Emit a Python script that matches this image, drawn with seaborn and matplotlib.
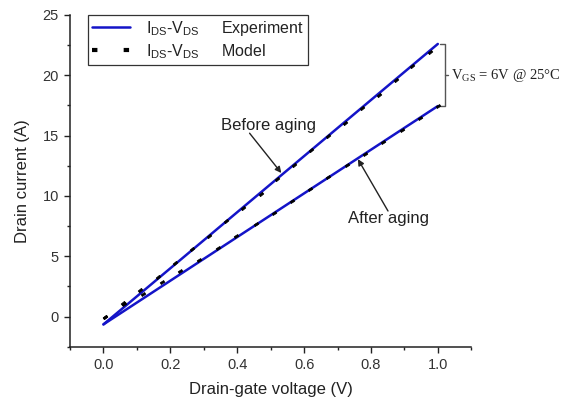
import numpy as np
import pandas as pd
import matplotlib
matplotlib.use("Agg")
import matplotlib.pyplot as plt
import seaborn as sns
from matplotlib.ticker import MultipleLocator
from matplotlib.lines import Line2D

# ---------------- data ----------------
exp_x = [0.0, 1.0]
exp_before = [-0.65, 22.6]
exp_after = [-0.65, 17.45]

model_before_x = [0.005, 0.058, 0.110, 0.163, 0.213, 0.264, 0.315, 0.367, 0.417, 0.470,
                  0.520, 0.570, 0.621, 0.672, 0.722, 0.773, 0.824, 0.874, 0.924, 0.976]
model_before_y = [0.0, 1.1, 2.2, 3.3, 4.45, 5.6, 6.7, 7.9, 9.0, 10.2,
                  11.4, 12.6, 13.8, 15.0, 16.05, 17.25, 18.4, 19.6, 20.8, 21.95]

model_after_x = [0.005, 0.061, 0.118, 0.175, 0.229, 0.285, 0.342, 0.397, 0.455, 0.509,
                 0.564, 0.618, 0.672, 0.727, 0.781, 0.836, 0.894, 0.948, 1.0]
model_after_y = [0.0, 1.0, 1.9, 2.85, 3.8, 4.7, 5.7, 6.65, 7.65, 8.6,
                 9.6, 10.55, 11.55, 12.55, 13.5, 14.5, 15.5, 16.5, 17.45]

xlabel = "Drain-gate voltage (V)"
ylabel = "Drain current (A)"
legend_labels = [r"$\mathregular{I_{DS}}$-$\mathregular{V_{DS}}$     Experiment",
                 r"$\mathregular{I_{DS}}$-$\mathregular{V_{DS}}$     Model"]
cond_text = r"V$\mathregular{_{GS}}$ = 6V @ 25°C"

# ---------------- style ----------------
sns.set_style("ticks")
plt.rcParams['font.family'] = ['Liberation Sans', 'DejaVu Sans']
plt.rcParams['mathtext.fontset'] = 'custom'
plt.rcParams['mathtext.rm'] = 'Liberation Sans'

BLUE = "#1414c8"

fig = plt.figure(figsize=(5.74, 4.03), dpi=100)
ax = fig.add_axes([0.122, 0.1397, 0.699, 0.8231])

ax.set_xlim(-0.1, 1.1)
ax.set_ylim(-2.5, 25)

df_exp = pd.DataFrame({
    "x": exp_x + exp_x,
    "y": exp_before + exp_after,
    "curve": ["before"] * len(exp_x) + ["after"] * len(exp_x),
})
sns.lineplot(data=df_exp, x="x", y="y", units="curve", estimator=None,
             color=BLUE, lw=1.8, ax=ax, legend=False, zorder=2)

fig.canvas.draw()

def dash_marker(xs, ys):
    p = ax.transData.transform(np.column_stack([xs, ys]))
    ang = np.arctan2(p[-1, 1] - p[0, 1], p[-1, 0] - p[0, 0])
    rect = np.array([[-1, -0.5], [1, -0.5], [1, 0.5], [-1, 0.5], [-1, -0.5]])
    c, s = np.cos(ang), np.sin(ang)
    rot = rect @ np.array([[c, s], [-s, c]])
    return [tuple(v) for v in rot]

for xs, ys in [(model_before_x, model_before_y), (model_after_x, model_after_y)]:
    df_m = pd.DataFrame({"x": xs, "y": ys})
    sns.scatterplot(data=df_m, x="x", y="y", marker=dash_marker(xs, ys), s=11,
                    color="black", edgecolor="black", linewidth=0.5, ax=ax, zorder=3,
                    legend=False)

# axes
ax.xaxis.set_major_locator(MultipleLocator(0.2))
ax.xaxis.set_minor_locator(MultipleLocator(0.1))
ax.yaxis.set_major_locator(MultipleLocator(5))
ax.yaxis.set_minor_locator(MultipleLocator(2.5))
ax.xaxis.set_major_formatter(matplotlib.ticker.FormatStrFormatter("%.1f"))
ax.tick_params(which="major", direction="out", length=4.5, width=1.0, labelsize=10.5,
               colors="#222222", labelcolor="#333333")
ax.tick_params(which="minor", direction="out", length=2.5, width=1.0, colors="#222222")
for sp in ["top", "right"]:
    ax.spines[sp].set_visible(False)
for sp in ["left", "bottom"]:
    ax.spines[sp].set_linewidth(1.1)
    ax.spines[sp].set_color("#222222")
ax.set_xlabel(xlabel, fontsize=12, color="#222222", labelpad=7)
ax.set_ylabel(ylabel, fontsize=12, color="#222222", labelpad=9)

# legend
handles = [Line2D([], [], color=BLUE, lw=1.8),
           Line2D([], [], color="black", lw=3.0, dashes=(1.3, 6.3))]
leg = ax.legend(handles, legend_labels, loc="upper left", bbox_to_anchor=(0.045, 1.0),
                borderaxespad=0, fontsize=11.5, handlelength=2.4, handletextpad=1.0,
                borderpad=0.25, labelspacing=0.25, frameon=True, fancybox=False,
                edgecolor="#333333", framealpha=1)
leg.get_frame().set_linewidth(0.9)
for t in leg.get_texts():
    t.set_color("#222222")

# annotations
ax.text(0.494, 15.86, "Before aging", ha="center", va="center", fontsize=12, color="#222222")
ax.annotate("", xy=(0.532, 11.9), xytext=(0.437, 15.2),
            arrowprops=dict(arrowstyle="-|>", color="#222222", lw=1.0, mutation_scale=9,
                            shrinkA=0, shrinkB=0))
ax.text(0.853, 8.1, "After aging", ha="center", va="center", fontsize=12, color="#222222")
ax.annotate("", xy=(0.761, 13.05), xytext=(0.851, 8.75),
            arrowprops=dict(arrowstyle="-|>", color="#222222", lw=1.0, mutation_scale=9,
                            shrinkA=0, shrinkB=0))

# bracket
top = exp_before[-1]
bot = exp_after[-1]
mid = (top + bot) / 2
xb = 1.02
ax.plot([xb - 0.012, xb, xb, xb - 0.012], [top, top, bot, bot], color="#555555",
        lw=1.0, clip_on=False)
ax.plot([xb, xb + 0.01], [mid, mid], color="#555555", lw=1.0, clip_on=False)
ax.text(xb + 0.02, mid, cond_text, ha="left", va="center", fontsize=10.5,
        family=["Liberation Serif", "DejaVu Serif"], color="#222222")

fig.savefig("out.png", dpi=100)
